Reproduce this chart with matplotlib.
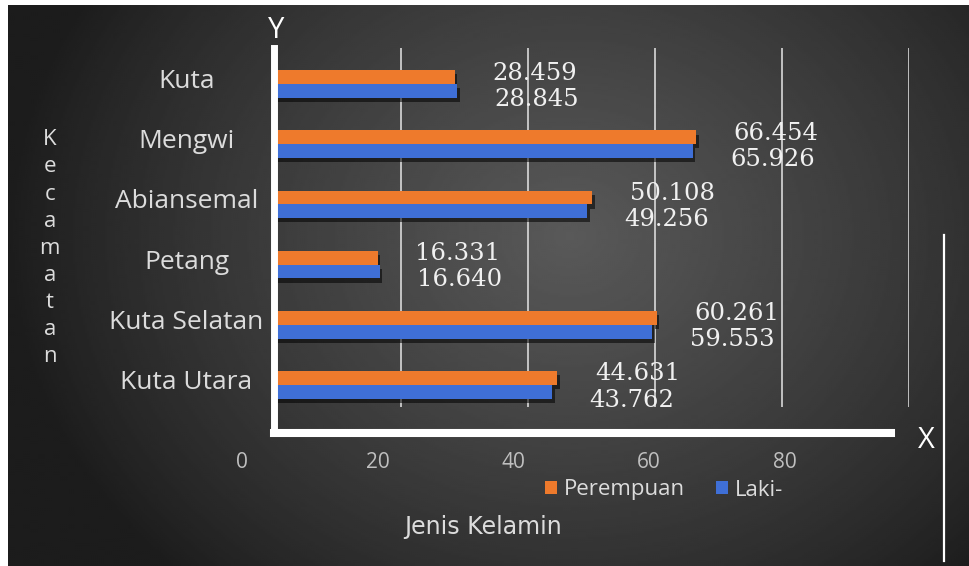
import numpy as np
import matplotlib
matplotlib.use("Agg")
import matplotlib.pyplot as plt
from matplotlib.patches import Patch
from matplotlib.lines import Line2D
import matplotlib.patheffects as pe
from matplotlib.transforms import ScaledTranslation

# ---- data ----
categories = ["Kuta", "Mengwi", "Abiansemal", "Petang", "Kuta Selatan", "Kuta Utara"]
perempuan = [28.459, 66.454, 50.108, 16.331, 60.261, 44.631]
laki = [28.845, 65.926, 49.256, 16.640, 59.553, 43.762]
series_names = ["Perempuan", "Laki-"]
x_ticks = [0, 20, 40, 60, 80]
grid_ticks = [20, 40, 60, 80, 100]

ORANGE = "#EE7A2C"
BLUE = "#3F6FD6"
TXT = "#dcdcdc"

W_PX, H_PX = 969, 566
fig = plt.figure(figsize=(W_PX / 100, H_PX / 100), dpi=100, facecolor="white")

def fx(px):
    return px / W_PX

def fy(py):
    return 1 - py / H_PX

# ---- background gradient ----
bg = fig.add_axes([fx(8), 0, fx(961), 1 - 5 / H_PX], zorder=-10)
H, W = 280, 480
yy, xx = np.mgrid[0:H, 0:W]
xx = xx * 2.0
yy = yy * 2.0
r = np.sqrt(((xx - 560) / 560) ** 2 + ((yy - 230) / 470) ** 2)
v = 0.11 + (0.35 - 0.11) * np.clip(1 - r, 0, 1) ** 0.85
bg.imshow(v, cmap="gray", vmin=0, vmax=1, aspect="auto", interpolation="bilinear")
bg.set_axis_off()

# ---- main axes ----
ax = fig.add_axes([fx(274), fy(433), fx(635), (433 - 48) / H_PX])
ax.set_facecolor("none")
y = np.arange(len(categories))
h = 0.23
shadow = [pe.SimplePatchShadow(offset=(2, -3), shadow_rgbFace="black", alpha=0.55), pe.Normal()]
b1 = ax.barh(y - h / 2, perempuan, height=h, color=ORANGE, zorder=3, label=series_names[0])
b2 = ax.barh(y + h / 2, laki, height=h, color=BLUE, zorder=3, label=series_names[1])
for b in list(b1) + list(b2):
    b.set_path_effects(shadow)

ax.set_xlim(0, 100)
ax.set_ylim(len(categories) - 0.2, -0.6)

# gridlines (partial height)
ax.vlines(grid_ticks, 0.068, 1.0, transform=ax.get_xaxis_transform(),
          colors="#e6e6e6", linewidth=1.1, zorder=1)

# data labels
for yi, vp, vl in zip(y, perempuan, laki):
    ax.annotate(f"{vp:.3f}", xy=(vp, yi - h / 2), xytext=(27, 3), textcoords="offset points",
                ha="left", va="center", fontsize=17.5, family="DejaVu Serif", color="#f0f0f0",
                zorder=5)
    ax.annotate(f"{vl:.3f}", xy=(vl, yi + h / 2), xytext=(27, -6), textcoords="offset points",
                ha="left", va="center", fontsize=17.5, family="DejaVu Serif", color="#f0f0f0",
                zorder=5)

# spines
for s in ["top", "right"]:
    ax.spines[s].set_visible(False)
ax.spines["left"].set_color("white")
ax.spines["left"].set_linewidth(5.0)
ax.spines["left"].set_capstyle("projecting")
ax.spines["bottom"].set_color("white")
ax.spines["bottom"].set_linewidth(5.8)
ax.spines["bottom"].set_capstyle("projecting")
ax.spines["bottom"].set_bounds(0, 97.2)
for sp in ax.spines.values():
    sp.set_zorder(6)

ax.set_xticks([])
ax.set_yticks(y)
ax.set_yticklabels(categories, fontsize=19, family="Open Sans", color=TXT)
ax.tick_params(axis="y", length=0, pad=63)
for lbl in ax.get_yticklabels():
    lbl.set_horizontalalignment("center")
    lbl.set_transform(lbl.get_transform() + ScaledTranslation(0, 4 / 72, fig.dpi_scale_trans))

# Y axis title (stacked letters)
ax.set_ylabel("\n".join("Kecamatan"), rotation=0, fontsize=16, family="Open Sans",
              color=TXT, linespacing=1.38, va="center", ha="center")
ax.yaxis.set_label_coords(-0.353, 0.48)

# ---- x tick labels axis ----
ax2 = fig.add_axes([fx(242), fy(452), fx(785 - 242), 0.0001])
ax2.set_facecolor("none")
ax2.set_xlim(x_ticks[0], x_ticks[-1])
ax2.set_xticks(x_ticks)
ax2.set_xticklabels([str(t) for t in x_ticks], fontsize=15, family="Open Sans", color="#bfbfbf")
ax2.tick_params(axis="x", length=0, pad=0)
ax2.set_yticks([])
for s in ax2.spines.values():
    s.set_visible(False)

# axis letters
fig.text(fx(276), fy(30), "Y", fontsize=21, family="Open Sans", color="white", ha="center", va="center")
fig.text(fx(926), fy(440), "X", fontsize=21, family="Open Sans", color="white", ha="center", va="center")

# x title
fig.text(fx(483), fy(527), "Jenis Kelamin", fontsize=17, family="DejaVu Sans", color=TXT,
         ha="center", va="center")

# legend
handles = [Patch(facecolor=ORANGE), Patch(facecolor=BLUE)]
leg = fig.legend(handles, series_names, loc="center", bbox_to_anchor=(fx(664), fy(490)), ncol=2,
                 frameon=False, handlelength=0.55, handleheight=0.55, handletextpad=0.3,
                 columnspacing=1.4, prop={"family": "Open Sans", "size": 16})
for t in leg.get_texts():
    t.set_color(TXT)

# decorative right vertical line
fig.add_artist(Line2D([fx(944), fx(944)], [fy(235), fy(561)], transform=fig.transFigure,
                      color="white", linewidth=1.6))

fig.savefig("out.png", dpi=100, facecolor="white")
